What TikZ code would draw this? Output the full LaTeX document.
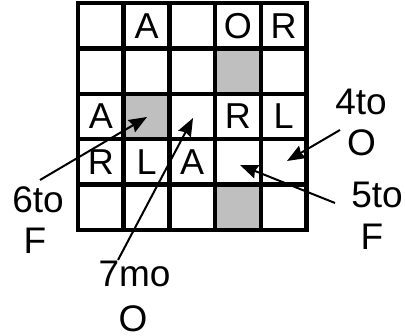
\documentclass[tikz,border=0pt]{standalone}
\usepackage{fontspec}
\setmainfont{Liberation Sans}
\usetikzlibrary{arrows.meta}
\begin{document}
\begin{tikzpicture}[x=1pt,y=-1pt,
  gridline/.style={line width=4.5pt,line cap=rect},
  shaded/.style={fill=black!25},
  letter/.style={inner sep=0pt,font=\fontsize{36}{42}\selectfont},
  caption/.style={inner sep=0pt,anchor=base,font=\fontsize{37}{44}\selectfont},
  pointer/.style={line width=2pt,-{Stealth[length=18pt,width=14pt,inset=2pt]}}]
\useasboundingbox (0,0) rectangle (405,336);
\def\gx{78}\def\gy{3}\def\cw{45.7}\def\ch{45.4}
% shaded squares (row, column)
\foreach \r/\c in {2/4,3/2,5/4}
  \fill[shaded] ({\gx+(\c-1)*\cw},{\gy+(\r-1)*\ch}) rectangle ({\gx+\c*\cw},{\gy+\r*\ch});
% cell centres as named coordinates
\foreach \r in {1,...,5}
  \foreach \c in {1,...,5}
    \coordinate (c\r\c) at ({\gx+(\c-0.5)*\cw},{\gy+(\r-0.5)*\ch});
% grid lines
\foreach \i in {0,...,5} {
  \draw[gridline] ({\gx+\i*\cw},\gy) -- ({\gx+\i*\cw},{\gy+5*\ch});
  \draw[gridline] (\gx,{\gy+\i*\ch}) -- ({\gx+5*\cw},{\gy+\i*\ch});
}
% letters in the squares
\foreach \r/\c/\t in {1/2/A,1/4/O,1/5/R,3/1/A,3/4/R,3/5/L,4/1/R,4/2/L,4/3/A}
  \node[letter] (l\r\c) at (c\r\c) {\t};
% captions
\node[caption] (six) at (38,212.7) {6to};
\node[caption] (sixb) at (35,254) {F};
\node[caption] (seven) at (134.5,286.7) {7mo};
\node[caption] (sevenb) at (133,332) {O};
\node[caption] (four) at (361,115) {4to};
\node[caption] (fourb) at (361.5,156) {O};
\node[caption] (five) at (377,208) {5to};
\node[caption] (fiveb) at (372,250) {F};
% arrow ends
\coordinate (t6) at (40,180);
\coordinate (h6) at (147,117);
\coordinate (t7) at (118,260);
\coordinate (h7) at (193,118);
\coordinate (t4) at (340,130);
\coordinate (h4) at (287,161);
\coordinate (t5) at (335,203);
\coordinate (h5) at (240,165);
\draw[pointer] (t6) -- (h6);
\draw[pointer] (t7) -- (h7);
\draw[pointer] (t4) -- (h4);
\draw[pointer] (t5) -- (h5);
\end{tikzpicture}
\end{document}
